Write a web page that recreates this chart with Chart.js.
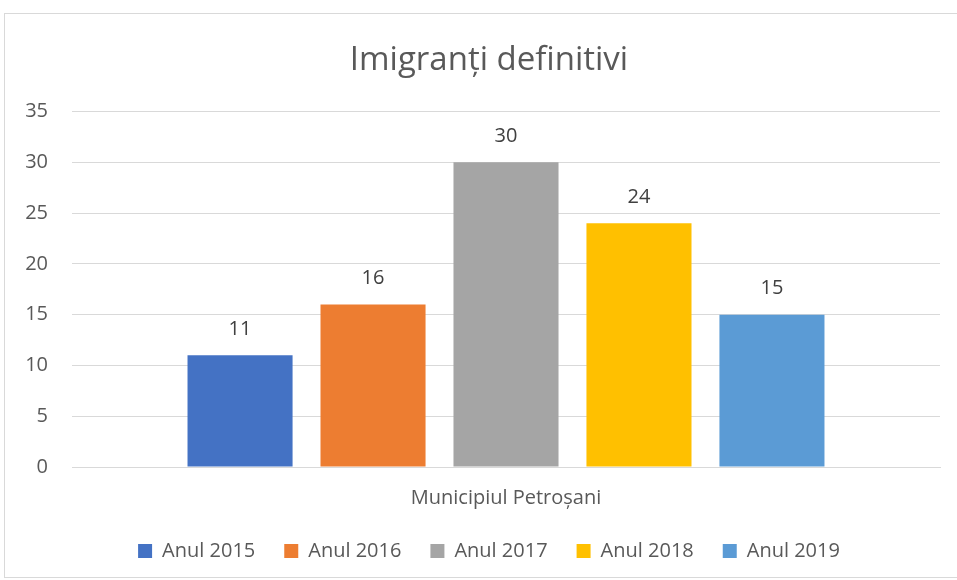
<!DOCTYPE html>
<html>
<head>
<meta charset="utf-8">
<script src="https://cdn.jsdelivr.net/npm/chart.js@4/dist/chart.umd.min.js"></script>
<style>
  html, body { margin: 0; padding: 0; background: #fff; }
  #frame {
    position: absolute; left: 4px; top: 13px;
    width: 962px; height: 565px;
    border: 1px solid #d9d9d9; box-sizing: border-box;
  }
  #chart { display: block; }
</style>
</head>
<body>
<div id="frame"><canvas id="chart" width="960" height="563"></canvas></div>
<script>
// data
const categories = ['Municipiul Petroșani'];
const seriesNames = ['Anul 2015', 'Anul 2016', 'Anul 2017', 'Anul 2018', 'Anul 2019'];
const seriesValues = [11, 16, 30, 24, 15];
const seriesColors = ['#4472c4', '#ed7d31', '#a5a5a5', '#ffc000', '#5b9bd5'];
const yTicks = [0, 5, 10, 15, 20, 25, 30, 35];

const FONT = '"Open Sans", sans-serif';
const TEXT = '#595959';

// draws the value above each bar
const valueLabels = {
  id: 'valueLabels',
  afterDatasetsDraw(chart) {
    const ctx = chart.ctx;
    ctx.save();
    ctx.font = '20px ' + FONT;
    ctx.fillStyle = '#404040';
    ctx.textAlign = 'center';
    ctx.textBaseline = 'middle';
    chart.data.datasets.forEach((ds, i) => {
      chart.getDatasetMeta(i).data.forEach((bar, j) => {
        ctx.fillText(ds.data[j], bar.x, bar.y - 26);
      });
    });
    ctx.restore();
  }
};

new Chart(document.getElementById('chart'), {
  type: 'bar',
  data: {
    labels: categories,
    datasets: seriesNames.map((name, i) => ({
      label: name,
      data: [seriesValues[i]],
      backgroundColor: seriesColors[i],
      barPercentage: 0.79,
      categoryPercentage: 0.766,
    })),
  },
  options: {
    responsive: false,
    animation: false,
    layout: { padding: { left: 8, right: 0, top: 10, bottom: 6 } },
    plugins: {
      title: {
        display: true,
        text: 'Imigranți definitivi',
        color: TEXT,
        font: { family: FONT, size: 33, weight: 'normal' },
        padding: { top: 17, bottom: 31 },
      },
      legend: {
        position: 'bottom',
        labels: {
          color: TEXT,
          font: { family: FONT, size: 20 },
          boxWidth: 14,
          boxHeight: 14,
          padding: 29,
        },
      },
      tooltip: { enabled: false },
    },
    scales: {
      y: {
        min: 0,
        max: 35,
        afterBuildTicks: (axis) => { axis.ticks = yTicks.map(v => ({ value: v })); },
        afterFit: (axis) => { axis.width = 59; },
        grid: { color: '#d9d9d9', drawTicks: false },
        border: { display: false },
        ticks: { color: TEXT, font: { family: FONT, size: 20 }, padding: 24 },
      },
      // empty right-hand spacer so the title sits where it does in the original
      spacer: {
        position: 'right',
        afterFit: (axis) => { axis.width = 25; },
        grid: { display: false, drawTicks: false },
        border: { display: false },
        ticks: { display: false },
      },
      x: {
        afterFit: (axis) => { axis.height = 45; },
        grid: { display: false },
        border: { color: '#d9d9d9' },
        ticks: { color: TEXT, font: { family: FONT, size: 20 }, padding: 11 },
      },
    },
  },
  plugins: [valueLabels],
});
</script>
</body>
</html>
